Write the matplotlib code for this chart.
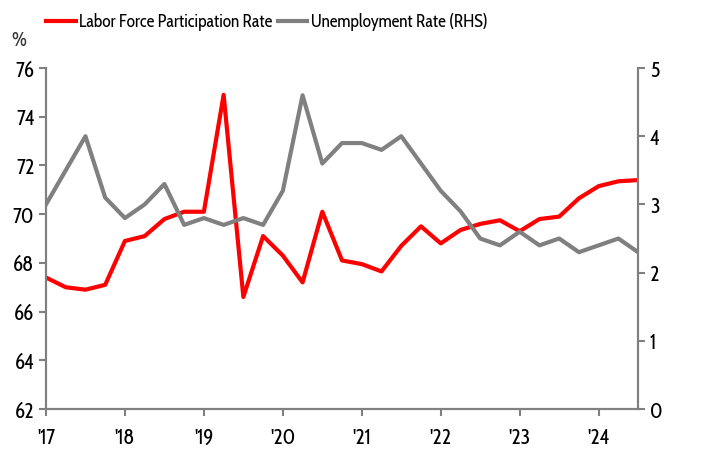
import numpy as np
import matplotlib.pyplot as plt

# quarterly data, Q1 2017 .. Q3 2024
quarters = np.arange(2017.0, 2024.51, 0.25)
lfpr = [67.4, 67.0, 66.9, 67.1, 68.9, 69.1, 69.8, 70.1, 70.1, 74.9,
        66.6, 69.1, 68.3, 67.2, 70.1, 68.1, 67.95, 67.65, 68.7, 69.5,
        68.8, 69.35, 69.6, 69.75, 69.3, 69.8, 69.9, 70.65, 71.15, 71.35, 71.4]
unemp = [3.0, 3.5, 4.0, 3.1, 2.8, 3.0, 3.3, 2.7, 2.8, 2.7,
         2.8, 2.7, 3.2, 4.6, 3.6, 3.9, 3.9, 3.8, 4.0, 3.6,
         3.2, 2.9, 2.5, 2.4, 2.6, 2.4, 2.5, 2.3, 2.4, 2.5, 2.3]
year_ticks = np.arange(2017, 2025)
year_labels = ["'17", "'18", "'19", "'20", "'21", "'22", "'23", "'24"]

plt.rcParams['font.family'] = ['Cabin Condensed', 'Archivo Narrow', 'DejaVu Sans']
grey = '#808080'

fig = plt.figure(figsize=(7.02, 4.55), dpi=100)
ax = fig.add_axes([0.0655, 0.101, 0.8435, 0.7495])
ax2 = ax.twinx()

l1, = ax.plot(quarters, lfpr, color='#ff0000', lw=3, label='Labor Force Participation Rate')
l2, = ax2.plot(quarters, unemp, color=grey, lw=3, label='Unemployment Rate (RHS)')

ax.set_xlim(2017, 2024.5)
ax.set_ylim(62, 76)
ax.set_yticks(range(62, 77, 2))
ax2.set_ylim(0, 5)
ax2.set_yticks(range(0, 6))
ax.set_xticks(year_ticks)
ax.set_xticklabels(year_labels)

for a in (ax, ax2):
    a.spines['top'].set_visible(False)
    for s in ('left', 'right', 'bottom'):
        a.spines[s].set_color(grey)
        a.spines[s].set_linewidth(1.5)
    a.tick_params(colors=grey, labelcolor='black', labelsize=15, length=5, width=1.5, direction='out')
ax.tick_params(axis='x', pad=8)

ax.text(-0.058, 1.065, '%', transform=ax.transAxes, fontsize=14, color='#333333')

fig.legend(handles=[l1, l2], loc='upper center', bbox_to_anchor=(0.38, 1.005), ncol=2,
           frameon=False, fontsize=12.5, handlelength=1.7, handletextpad=0.2, columnspacing=0.3)

fig.savefig('out.png', dpi=100)
